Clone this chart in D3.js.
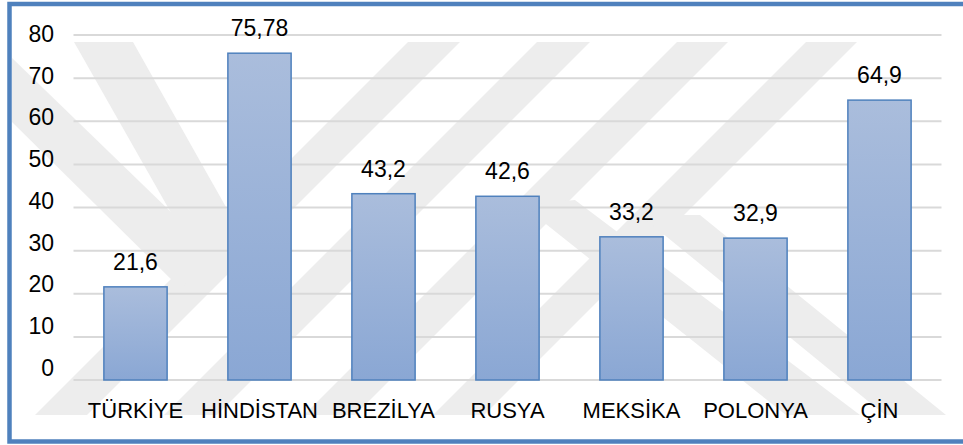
<!DOCTYPE html>
<html>
<head>
<meta charset="utf-8">
<script src="https://cdn.jsdelivr.net/npm/d3@7"></script>
<style>
    body { margin: 0; background: #fff; }
    text { font-family: "Liberation Sans", Arial, sans-serif; fill: #000; }
</style>
</head>
<body>
<div id="chart"></div>
<script>
// data
var countries = ["TÜRKİYE", "HİNDİSTAN", "BREZİLYA", "RUSYA", "MEKSİKA", "POLONYA", "ÇİN"];
var values = [21.6, 75.78, 43.2, 42.6, 33.2, 32.9, 64.9];
var valueLabels = ["21,6", "75,78", "43,2", "42,6", "33,2", "32,9", "64,9"];
var yTicks = [0, 10, 20, 30, 40, 50, 60, 70, 80];

// background watermark bands (decoration only, not data)
var watermark = [
    [[408, 42], [460, 42], [87, 415], [35, 415]],
    [[537, 42], [590, 42], [217, 415], [164, 415]],
    [[677, 42], [728, 42], [355, 415], [304, 415]],
    [[806, 42], [857, 42], [484, 415], [433, 415]],
    [[74, 42], [133, 42], [240, 232], [195, 255]],
    [[12, 58], [12, 122], [182, 290], [205, 245]],
    [[640, 215], [700, 215], [946, 415], [885, 415]],
    [[522, 205], [575, 200], [860, 415], [786, 415]]
];

function barChart(){
    var width = 963;
    var height = 445;
    var left = 73.5, right = 941.5;

    function chart(selection){
        selection.each(function(){
            var svg = d3.select(this).append("svg")
                .attr("width", width).attr("height", height);

            var grad = svg.append("defs").append("linearGradient")
                .attr("id", "barGrad").attr("x1", 0).attr("y1", 0).attr("x2", 0).attr("y2", 1);
            grad.append("stop").attr("offset", "0%").attr("stop-color", "#aabddc");
            grad.append("stop").attr("offset", "100%").attr("stop-color", "#8aa7d4");

            svg.append("g").selectAll("polygon")
                .data(watermark)
                .enter()
                .append("polygon")
                .attr("points", function(d){ return d.join(" "); })
                .attr("fill", "#ededed");

            var x = d3.scaleBand()
                .domain(countries)
                .range([left, right])
                .paddingInner(0.49)
                .paddingOuter(0.245);

            var y = d3.scaleLinear().domain([0, 80]).range([380, 35]);
            // tick texts sit on a slightly tighter spacing than the gridlines
            var yLab = d3.scaleLinear().domain([0, 80]).range([368, 34]);

            svg.append("g").selectAll("line")
                .data(yTicks)
                .enter()
                .append("line")
                .attr("x1", left).attr("x2", right)
                .attr("y1", function(d){ return y(d); })
                .attr("y2", function(d){ return y(d); })
                .attr("stroke", "#d9d9d9")
                .attr("stroke-width", 2);

            var axis = svg.append("g")
                .attr("transform", "translate(54,0)")
                .call(d3.axisLeft(yLab).tickValues(yTicks).tickSize(0).tickPadding(0));
            axis.select(".domain").remove();
            axis.selectAll("text")
                .attr("font-family", "Liberation Sans, Arial, sans-serif")
                .attr("font-size", 23)
                .attr("fill", "#000");

            svg.append("g").selectAll("rect")
                .data(values)
                .enter()
                .append("rect")
                .attr("x", function(d, i){ return x(countries[i]); })
                .attr("y", function(d){ return y(d); })
                .attr("width", x.bandwidth())
                .attr("height", function(d){ return y(0) - y(d); })
                .attr("fill", "url(#barGrad)")
                .attr("stroke", "#4f81bd")
                .attr("stroke-width", 1.5);

            svg.append("g").selectAll("text")
                .data(values)
                .enter()
                .append("text")
                .attr("x", function(d, i){ return x(countries[i]) + x.bandwidth() / 2; })
                .attr("y", function(d){ return y(d) - 17; })
                .attr("text-anchor", "middle")
                .attr("font-size", 23)
                .text(function(d, i){ return valueLabels[i]; });

            svg.append("g").selectAll("text")
                .data(countries)
                .enter()
                .append("text")
                .attr("x", function(d){ return x(d) + x.bandwidth() / 2; })
                .attr("y", 418)
                .attr("text-anchor", "middle")
                .attr("font-size", 22)
                .text(function(d){ return d; });

            // outer blue frame
            svg.append("rect")
                .attr("x", 9.5).attr("y", 4)
                .attr("width", 970).attr("height", 437.5)
                .attr("fill", "none")
                .attr("stroke", "#4f81bd")
                .attr("stroke-width", 4.5);
        });
    }

    return chart;
}

d3.select("#chart").call(barChart());
</script>
</body>
</html>
